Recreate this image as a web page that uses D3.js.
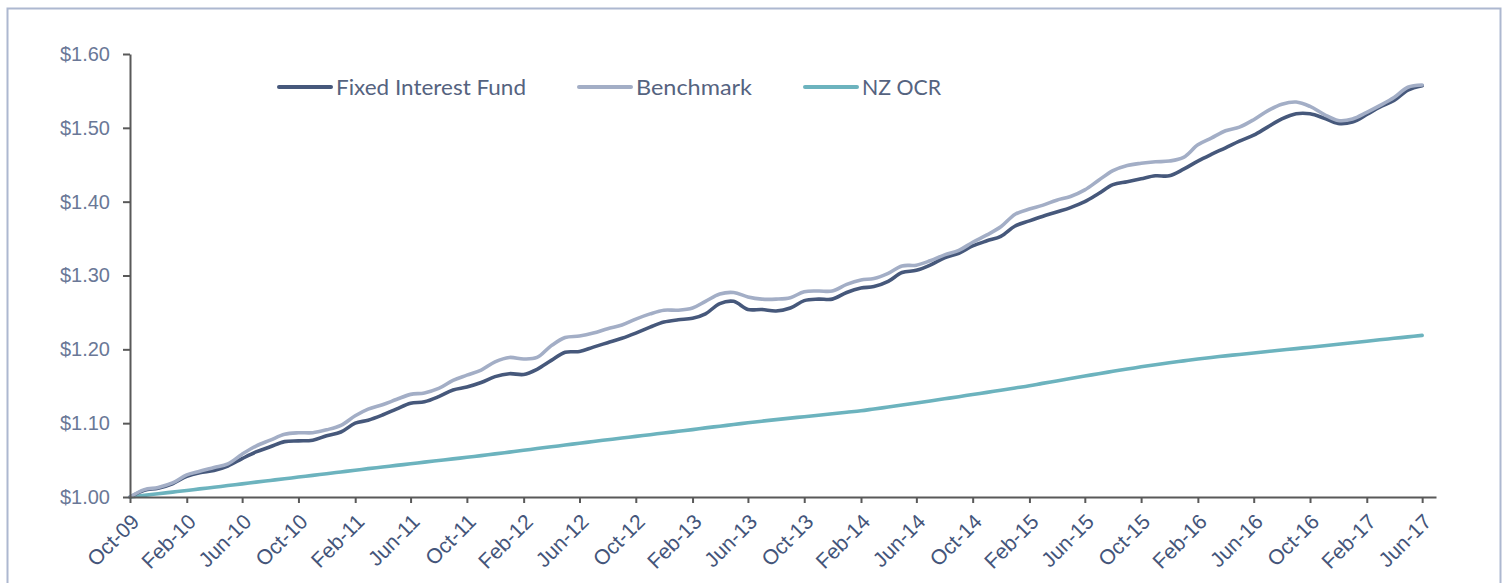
<!DOCTYPE html>
<html>
<head>
<meta charset="utf-8">
<script src="https://cdn.jsdelivr.net/npm/d3@7"></script>
<style>
  body { margin: 0; background: #fff; }
  svg { display: block; font-family: Lato, "Noto Sans", sans-serif; }
</style>
</head>
<body>
<div id="chart"></div>
<script>
// monthly index values, Oct-09 .. Jun-17
const firstMonth = "2009-10";

const fund = [
  1.000, 1.009, 1.012, 1.018, 1.028, 1.033, 1.036, 1.042, 1.052, 1.061,
  1.068, 1.075, 1.076, 1.077, 1.083, 1.088, 1.100, 1.104, 1.111, 1.119,
  1.127, 1.129, 1.136, 1.145, 1.149, 1.155, 1.163, 1.167, 1.166, 1.173,
  1.185, 1.196, 1.197, 1.203, 1.209, 1.215, 1.222, 1.230, 1.237, 1.240,
  1.242, 1.248, 1.262, 1.265, 1.254, 1.254, 1.252, 1.256, 1.266, 1.268,
  1.268, 1.277, 1.283, 1.285, 1.292, 1.304, 1.307, 1.314, 1.324, 1.330,
  1.340, 1.347, 1.353, 1.367, 1.374, 1.380, 1.386, 1.392, 1.400, 1.411,
  1.423, 1.427, 1.431, 1.435, 1.435, 1.444, 1.455, 1.464, 1.473, 1.482,
  1.490, 1.501, 1.512, 1.519, 1.519, 1.513, 1.506, 1.508, 1.518, 1.528,
  1.537, 1.551, 1.557
];

const benchmark = [
  1.000, 1.010, 1.013, 1.019, 1.030, 1.035, 1.040, 1.045, 1.058, 1.069,
  1.077, 1.085, 1.087, 1.087, 1.091, 1.097, 1.110, 1.119, 1.125, 1.132,
  1.139, 1.141, 1.147, 1.158, 1.165, 1.172, 1.183, 1.189, 1.187, 1.189,
  1.205, 1.216, 1.218, 1.222, 1.228, 1.233, 1.241, 1.248, 1.253, 1.253,
  1.256, 1.265, 1.275, 1.277, 1.271, 1.268, 1.268, 1.270, 1.278, 1.279,
  1.279, 1.288, 1.294, 1.296, 1.303, 1.313, 1.314, 1.320, 1.328, 1.334,
  1.345, 1.355, 1.366, 1.383, 1.390, 1.395, 1.402, 1.407, 1.416, 1.429,
  1.442, 1.449, 1.452, 1.454, 1.455, 1.460, 1.477, 1.486, 1.496, 1.501,
  1.511, 1.523, 1.532, 1.535, 1.529, 1.518, 1.510, 1.512, 1.521, 1.530,
  1.541, 1.555, 1.558
];

const ocr = [
  1.0000, 1.0022, 1.0044, 1.0066, 1.0088, 1.0110, 1.0132, 1.0155, 1.0178, 1.0201,
  1.0224, 1.0247, 1.0270, 1.0293, 1.0316, 1.0339, 1.0362, 1.0384, 1.0406, 1.0428,
  1.0450, 1.0472, 1.0494, 1.0516, 1.0538, 1.0560, 1.0584, 1.0608, 1.0632, 1.0656,
  1.0680, 1.0704, 1.0728, 1.0752, 1.0775, 1.0798, 1.0821, 1.0844, 1.0867, 1.0890,
  1.0913, 1.0936, 1.0959, 1.0982, 1.1005, 1.1027, 1.1048, 1.1068, 1.1088, 1.1108,
  1.1128, 1.1148, 1.1168, 1.1192, 1.1218, 1.1245, 1.1273, 1.1301, 1.1330, 1.1359,
  1.1388, 1.1417, 1.1447, 1.1477, 1.1507, 1.1539, 1.1572, 1.1605, 1.1638, 1.1670,
  1.1702, 1.1733, 1.1763, 1.1791, 1.1818, 1.1844, 1.1868, 1.1890, 1.1911, 1.1931,
  1.1951, 1.1971, 1.1991, 1.2010, 1.2029, 1.2049, 1.2069, 1.2089, 1.2109, 1.2129,
  1.2149, 1.2169, 1.2189
];

const tickLabels = [
  "Oct-09", "Feb-10", "Jun-10", "Oct-10", "Feb-11", "Jun-11", "Oct-11", "Feb-12",
  "Jun-12", "Oct-12", "Feb-13", "Jun-13", "Oct-13", "Feb-14", "Jun-14", "Oct-14",
  "Feb-15", "Jun-15", "Oct-15", "Feb-16", "Jun-16", "Oct-16", "Feb-17", "Jun-17"
];
const yTicks = [1.0, 1.1, 1.2, 1.3, 1.4, 1.5, 1.6];

const seriesNames = ["Fixed Interest Fund", "Benchmark", "NZ OCR"];
const seriesColors = ["#46587b", "#a3aec6", "#6cb3be"];

const width = 1506,
      height = 583,
      margin = ({top: 54, right: 70, bottom: 86, left: 130});

let svg = d3.select("#chart")
  .append("svg")
  .attr("width", width)
  .attr("height", height)
  .attr("viewBox", [0, 0, width, height]);

// outer frame
svg.append("rect")
  .attr("x", 7.5).attr("y", 8.5)
  .attr("width", 1493).attr("height", 620)
  .attr("fill", "none")
  .attr("stroke", "#adb8d0")
  .attr("stroke-width", 2);

const start = d3.timeParse("%Y-%m")(firstMonth);
const dates = fund.map((d, i) => d3.timeMonth.offset(start, i));
const parseTick = d3.timeParse("%b-%y");

let x = d3.scaleTime()
  .domain([start, d3.timeMonth.offset(start, fund.length)])
  .range([margin.left, width - margin.right]);

let y = d3.scaleLinear()
  .domain([1.0, 1.6])
  .range([height - margin.bottom, margin.top]);

// lines first, axes on top
const line = d3.line()
  .x((d, i) => x(dates[i]))
  .y(d => y(d))
  .curve(d3.curveCatmullRom.alpha(0.5));

const series = [fund, benchmark, ocr];
const drawOrder = [2, 0, 1]; // benchmark sits over the fund line

svg.append("g")
  .selectAll("path")
  .data(drawOrder)
  .join("path")
  .attr("d", k => line(series[k]))
  .attr("fill", "none")
  .attr("stroke", k => seriesColors[k])
  .attr("stroke-width", 3.6)
  .attr("stroke-linecap", "round")
  .attr("stroke-linejoin", "round");

const yAxis = g => g
  .attr("transform", `translate(${margin.left}, 0)`)
  .call(d3.axisLeft(y).tickValues(yTicks).tickFormat(d3.format("$.2f"))
    .tickSize(7).tickSizeOuter(0).tickPadding(13))
  .call(g => g.selectAll("path, line").attr("stroke", "#595959").attr("stroke-width", 2))
  .call(g => g.selectAll("text")
    .attr("fill", "#6a7897")
    .style("font-size", "20px"));

const xAxis = g => g
  .attr("transform", `translate(0, ${height - margin.bottom})`)
  .call(d3.axisBottom(x).tickValues(tickLabels.map(parseTick))
    .tickFormat(d3.timeFormat("%b-%y")).tickSize(6).tickSizeOuter(0))
  .call(g => g.selectAll("path, line").attr("stroke", "#595959").attr("stroke-width", 2))
  .call(g => g.selectAll("text")
    .attr("x", null).attr("y", null).attr("dy", null)
    .attr("text-anchor", "end")
    .attr("transform", "translate(10, 26) rotate(-45)")
    .attr("fill", "#44557a")
    .style("font-size", "21px"));

svg.append("g").call(xAxis);
svg.append("g").call(yAxis);

// legend
const legendX = [279, 579, 805];
const legendTextLen = [190, 116, 79];
const legendY = 87;

let legend = svg.append("g")
  .selectAll("g")
  .data(seriesNames)
  .join("g")
  .attr("transform", (d, i) => `translate(${legendX[i]}, ${legendY})`);

legend.append("line")
  .attr("x1", 0).attr("x2", 52)
  .attr("stroke", (d, i) => seriesColors[i])
  .attr("stroke-width", 4)
  .attr("stroke-linecap", "round");

legend.append("text")
  .attr("x", 57)
  .attr("dy", "0.36em")
  .attr("textLength", (d, i) => legendTextLen[i])
  .attr("lengthAdjust", "spacingAndGlyphs")
  .attr("fill", "#55637f")
  .style("font-size", "21px")
  .text(d => d);
</script>
</body>
</html>
